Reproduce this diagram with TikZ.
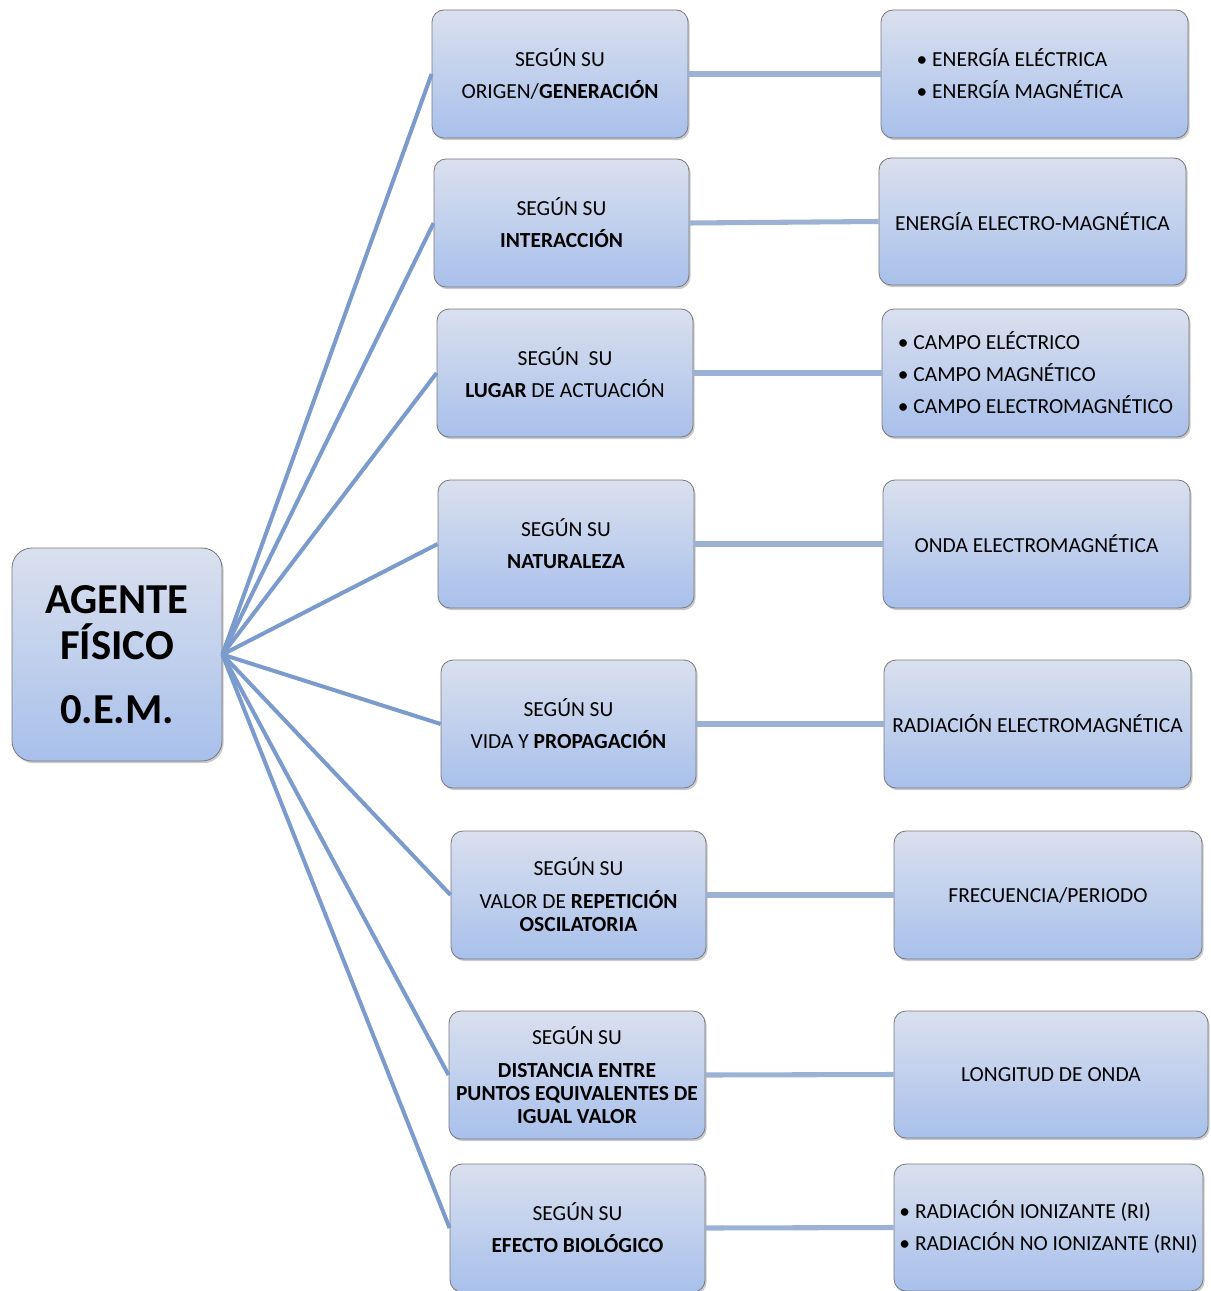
\documentclass[tikz,border=0pt]{standalone}
\usepackage{fontspec}
\setmainfont{Carlito}
\usetikzlibrary{shadows}
\definecolor{boxtop}{RGB}{218,224,238}
\definecolor{boxbot}{RGB}{168,192,235}
\definecolor{boxline}{RGB}{120,120,125}
\definecolor{diagc}{RGB}{123,155,204}
\definecolor{horc}{RGB}{156,178,212}
\tikzset{
  box/.style={draw=boxline, line width=0.6pt, rounded corners=9pt,
    top color=boxtop, bottom color=boxbot, inner sep=0pt,
    drop shadow={shadow xshift=1.2pt, shadow yshift=-1.6pt, opacity=0.35, fill=black!60},
    font=\fontsize{16.1}{17.25}\selectfont, align=center},
  rootbox/.style={box, rounded corners=15pt, font=\fontsize{32}{34}\selectfont\bfseries},
  diag/.style={draw=diagc, line width=3pt},
  hor/.style={draw=horc, line width=3.8pt},
}
\begin{document}
\begin{tikzpicture}[x=0.75pt,y=-0.75pt]
\useasboundingbox (0,0) rectangle (1210,1291);
% root
\node[rootbox, minimum width=210*0.75pt, minimum height=213*0.75pt] (root) at (117,654.5)
  {AGENTE\\FÍSICO\\[14pt]0.E.M.};
% left column
\node[box, minimum width=256*0.75pt, minimum height=128*0.75pt] (l1) at (560,74)
  {SEGÚN SU\\[6.75pt]ORIGEN/\textbf{GENERACIÓN}};
\node[box, minimum width=255*0.75pt, minimum height=128*0.75pt] (l2) at (561.5,223)
  {SEGÚN SU\\[6.75pt]\textbf{INTERACCIÓN}};
\node[box, minimum width=256*0.75pt, minimum height=128*0.75pt] (l3) at (565,373)
  {SEGÚN\ \ SU\\[6.75pt]\textbf{LUGAR} DE ACTUACIÓN};
\node[box, minimum width=256*0.75pt, minimum height=128*0.75pt] (l4) at (566,544)
  {SEGÚN SU\\[6.75pt]\textbf{NATURALEZA}};
\node[box, minimum width=255*0.75pt, minimum height=128*0.75pt] (l5) at (568.5,724)
  {SEGÚN SU\\[6.75pt]VIDA Y \textbf{PROPAGACIÓN}};
\node[box, minimum width=255*0.75pt, minimum height=128*0.75pt] (l6) at (578.5,895)
  {SEGÚN SU\\[7.5pt]VALOR DE \textbf{REPETICIÓN}\\\textbf{OSCILATORIA}};
\node[box, minimum width=256*0.75pt, minimum height=128*0.75pt] (l7) at (577,1075)
  {SEGÚN SU\\[7.5pt]\textbf{DISTANCIA ENTRE}\\\textbf{PUNTOS EQUIVALENTES DE}\\\textbf{IGUAL VALOR}};
\node[box, minimum width=255*0.75pt, minimum height=128*0.75pt] (l8) at (577.5,1228)
  {SEGÚN SU\\[6.75pt]\textbf{EFECTO BIOLÓGICO}};
% right column
\node[box, minimum width=307*0.75pt, minimum height=128*0.75pt, align=left] (r1) at (1034.5,74)
  {• ENERGÍA ELÉCTRICA\\[6.75pt]• ENERGÍA MAGNÉTICA\hspace*{22pt}};
\node[box, minimum width=307*0.75pt, minimum height=127*0.75pt] (r2) at (1032.5,221.5)
  {ENERGÍA ELECTRO-MAGNÉTICA};
\node[box, minimum width=307*0.75pt, minimum height=128*0.75pt, align=left] (r3) at (1035.5,373)
  {• CAMPO ELÉCTRICO\\[6.75pt]• CAMPO MAGNÉTICO\\[6.75pt]• CAMPO ELECTROMAGNÉTICO};
\node[box, minimum width=307*0.75pt, minimum height=128*0.75pt] (r4) at (1036.5,544)
  {ONDA ELECTROMAGNÉTICA};
\node[box, minimum width=307*0.75pt, minimum height=128*0.75pt] (r5) at (1037.5,724)
  {RADIACIÓN ELECTROMAGNÉTICA};
\node[box, minimum width=308*0.75pt, minimum height=128*0.75pt] (r6) at (1048,895)
  {FRECUENCIA/PERIODO};
\node[box, minimum width=314*0.75pt, minimum height=127*0.75pt] (r7) at (1051,1074.5)
  {LONGITUD DE ONDA};
\node[box, minimum width=309*0.75pt, minimum height=127*0.75pt, align=left] (r8) at (1048.5,1227.5)
  {• RADIACIÓN IONIZANTE (RI)\\[6.75pt]• RADIACIÓN NO IONIZANTE (RNI)};
% connectors
\foreach \i in {1,...,8}{
  \draw[diag] (root.east) -- (l\i.west);
  \draw[hor] (l\i.east) -- (r\i.west);
}
\end{tikzpicture}
\end{document}
